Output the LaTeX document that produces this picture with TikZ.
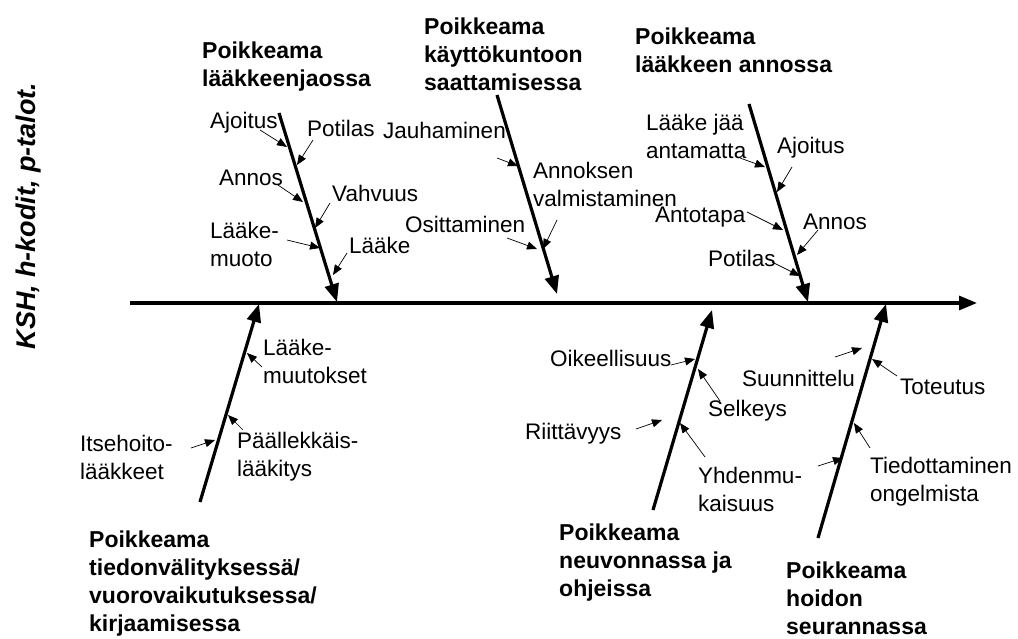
\documentclass[tikz,border=0pt]{standalone}
\usepackage{fontspec}
\setmainfont{Liberation Sans}
\usetikzlibrary{arrows.meta}
\begin{document}
\begin{tikzpicture}[x=1pt,y=-1pt,
  bone/.style={line width=3.2pt,-{Triangle[length=18pt,width=14pt]}},
  rib/.style={line width=0.7pt,-{Triangle[length=10pt,width=8pt]}},
  lbl/.style={font=\fontsize{22.5}{28}\selectfont,align=left,inner sep=0pt,anchor=west},
  ttl/.style={font=\fontsize{23}{28}\selectfont\bfseries,align=left,inner sep=0pt,anchor=west}]
\useasboundingbox (0,0) rectangle (1018,639);
% side label
\node[rotate=90,font=\fontsize{27}{30}\selectfont\bfseries\itshape,inner sep=0pt] (side) at (29,216) {KSH, h-kodit, p-talot.};
% spine
\coordinate (s0) at (130,303);
\coordinate (s1) at (977,303);
\draw[bone] (s0) -- (s1);
% bones
\coordinate (b1a) at (279,113); \coordinate (b1b) at (337,302);
\coordinate (b2a) at (497,95);  \coordinate (b2b) at (557,294);
\coordinate (b3a) at (749,104); \coordinate (b3b) at (808,302);
\coordinate (b4a) at (200,502); \coordinate (b4b) at (259,304);
\coordinate (b5a) at (653,510); \coordinate (b5b) at (712,310);
\coordinate (b6a) at (818,538); \coordinate (b6b) at (886,304);
\foreach \i in {1,...,6} {\draw[bone] (b\i a) -- (b\i b);}
% titles
\node[ttl] (t1) at (202,67) {Poikkeama\\lääkkeenjaossa};
\node[ttl] (t2) at (424,54) {Poikkeama\\käyttökuntoon\\saattamisessa};
\node[ttl] (t3) at (635,50) {Poikkeama\\lääkkeen annossa};
\node[ttl] (t4) at (89,584) {Poikkeama\\tiedonvälityksessä/\\vuorovaikutuksessa/\\kirjaamisessa};
\node[ttl] (t5) at (559,563) {Poikkeama\\neuvonnassa ja\\ohjeissa};
\node[ttl] (t6) at (786,598) {Poikkeama\\hoidon\\seurannassa};
% bone 1 labels
\node[lbl] (l11) at (210,123) {Ajoitus};
\node[lbl] (l12) at (307,128) {Potilas};
\node[lbl] (l13) at (219,178) {Annos};
\node[lbl] (l14) at (332,193) {Vahvuus};
\node[lbl] (l15) at (210,244) {Lääke-\\muoto};
\node[lbl] (l16) at (349,245) {Lääke};
\draw[rib] (260,130) -- (287,147);
\draw[rib] (313,140) -- (297,165);
\draw[rib] (278,185) -- (303,202);
\draw[rib] (330,203) -- (315,228);
\draw[rib] (287,240) -- (320,248);
\draw[rib] (347,253) -- (333,275);
% bone 2 labels
\node[lbl] (l21) at (383,130) {Jauhaminen};
\node[lbl] (l22) at (533,184) {Annoksen\\valmistaminen};
\node[lbl] (l23) at (405,224) {Osittaminen};
\draw[rib] (497,158) -- (518,166);
\draw[rib] (557,220) -- (543,249);
\draw[rib] (507,238) -- (537,249);
% bone 3 labels
\node[lbl] (l31) at (646,136) {Lääke jää\\antamatta};
\node[lbl] (l32) at (777,148) {Ajoitus};
\node[lbl] (l33) at (655,217) {Antotapa};
\node[lbl] (l34) at (803,222) {Annos};
\node[lbl] (l35) at (708,258) {Potilas};
\draw[rib] (740,158) -- (765,167);
\draw[rib] (792,167) -- (777,192);
\draw[rib] (747,212) -- (783,230);
\draw[rib] (818,230) -- (797,255);
\draw[rib] (772,262) -- (800,276);
% bone 4 labels
\node[lbl] (l41) at (263,361) {Lääke-\\muutokset};
\node[lbl] (l42) at (237,457) {Päällekkäis-\\lääkitys};
\node[lbl] (l43) at (80,457) {Itsehoito-\\lääkkeet};
\draw[rib] (262,367) -- (247,353);
\draw[rib] (243,430) -- (228,415);
\draw[rib] (191,448) -- (215,440);
% bone 5 labels
\node[lbl] (l51) at (550,358) {Oikeellisuus};
\node[lbl] (l52) at (708,411) {Selkeys};
\node[lbl] (l53) at (525,434) {Riittävyys};
\node[lbl] (l54) at (698,489) {Yhdenmu-\\kaisuus};
\draw[rib] (671,365) -- (695,359);
\draw[rib] (720,401) -- (698,369);
\draw[rib] (636,429) -- (662,420);
\draw[rib] (705,457) -- (680,423);
% bone 6 labels
\node[lbl] (l61) at (742,378) {Suunnittelu};
\node[lbl] (l62) at (900,387) {Toteutus};
\node[lbl] (l63) at (870,482) {Tiedottaminen\\ongelmista};
\draw[rib] (835,357) -- (862,348);
\draw[rib] (897,376) -- (872,359);
\draw[rib] (870,448) -- (854,423);
\draw[rib] (818,466) -- (843,458);
\end{tikzpicture}
\end{document}
